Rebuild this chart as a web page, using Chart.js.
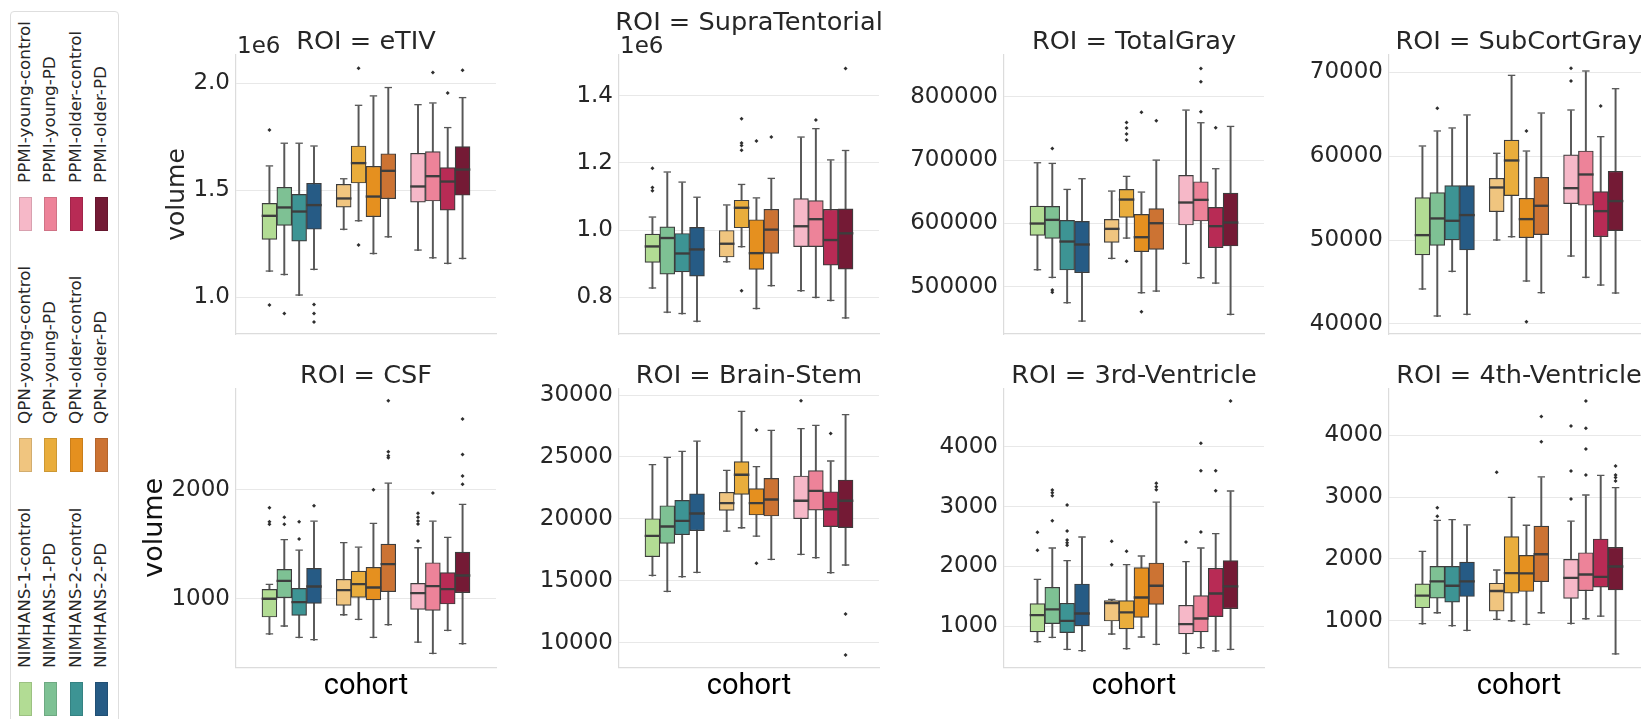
<!DOCTYPE html>
<html>
<head>
<meta charset="utf-8">
<script src="https://cdn.jsdelivr.net/npm/chart.js@4.4.1/dist/chart.umd.min.js"></script>
<style>
    html, body { margin: 0; padding: 0; background: #fff; overflow: hidden; }
    #stage { position: relative; width: 1641px; height: 719px; overflow: hidden; }
    #stage canvas { position: absolute; }
    #legendBox { position: absolute; left: 10px; top: 11px; width: 109px; height: 712px; border: 1px solid #dedede; border-radius: 4px; box-sizing: border-box; }
    .swatch { position: absolute; width: 13px; height: 34px; box-sizing: border-box; border: 1px solid rgba(0,0,0,0.12); }
    .lbl { position: absolute; font-family: 'DejaVu Sans'; font-size: 15px; line-height: 1; color: #262626; white-space: nowrap; transform-origin: 0 0; }
</style>
</head>
<body>
<div id="stage"><div id="legendBox"></div></div>
<script>
// ============================================
// DATOS
// ============================================
const rois = ['eTIV', 'SupraTentorial', 'TotalGray', 'SubCortGray', 'CSF', 'Brain-Stem', '3rd-Ventricle', '4th-Ventricle'];

const groups = [
    'NIMHANS-1-control', 'NIMHANS-1-PD', 'NIMHANS-2-control', 'NIMHANS-2-PD',
    'QPN-young-control', 'QPN-young-PD', 'QPN-older-control', 'QPN-older-PD',
    'PPMI-young-control', 'PPMI-young-PD', 'PPMI-older-control', 'PPMI-older-PD'
];
const groupColors = [
    '#b2dc94', '#7ec194', '#3d9494', '#265b85',
    '#f0c57f', '#e9ad3c', '#e5901f', '#cc7333',
    '#f6b8c8', '#ed8399', '#b82b55', '#741a35'
];
// hue slot of each group on the single "cohort" category (two empty slots separate the studies)
const slots = [0, 1, 2, 3, 5, 6, 7, 8, 10, 11, 12, 13];

// one row per ROI, one value per group
const whiskerLow = [
    [1.120e6, 1.104e6, 1.008e6, 1.128e6, 1.315e6, 1.355e6, 1.202e6, 1.280e6, 1.218e6, 1.182e6, 1.156e6, 1.179e6],
    [0.826e6, 0.754e6, 0.750e6, 0.727e6, 0.904e6, 0.949e6, 0.765e6, 0.833e6, 0.818e6, 0.798e6, 0.789e6, 0.737e6],
    [525800, 513700, 473700, 444700, 543700, 575800, 489500, 492100, 535800, 513200, 504700, 455300],
    [44100, 40880, 46200, 41080, 49940, 50330, 45050, 43660, 48030, 45490, 44570, 43620],
    [674, 747, 643, 622, 850, 808, 643, 759, 600, 497, 707, 585],
    [15380, 14090, 15280, 15630, 18960, 19230, 18560, 16680, 17080, 16810, 15600, 16220],
    [733, 806, 605, 583, 861, 616, 811, 689, 539, 633, 578, 605],
    [941, 1118, 909, 834, 1011, 989, 930, 1118, 945, 1021, 1064, 454]
];
const quartile1 = [
    [1.271e6, 1.336e6, 1.263e6, 1.318e6, 1.421e6, 1.534e6, 1.377e6, 1.461e6, 1.445e6, 1.450e6, 1.407e6, 1.477e6],
    [0.904e6, 0.869e6, 0.876e6, 0.863e6, 0.920e6, 1.007e6, 0.883e6, 0.931e6, 0.951e6, 0.951e6, 0.896e6, 0.884e6],
    [581100, 576300, 526300, 522100, 570000, 609500, 555300, 558900, 597400, 603700, 561600, 564200],
    [48230, 49380, 50020, 48820, 53390, 55300, 50290, 50650, 54350, 54150, 50410, 51130],
    [835, 1012, 850, 960, 942, 1015, 991, 1067, 905, 896, 954, 1058],
    [16940, 18020, 18720, 19040, 20690, 21980, 20310, 20230, 20010, 20710, 19370, 19290],
    [906, 1045, 895, 1006, 1089, 956, 1151, 1368, 873, 906, 1162, 1295],
    [1209, 1365, 1300, 1391, 1155, 1445, 1472, 1631, 1361, 1485, 1544, 1496]
];
const medians = [
    [1.377e6, 1.416e6, 1.397e6, 1.427e6, 1.458e6, 1.623e6, 1.467e6, 1.587e6, 1.514e6, 1.562e6, 1.537e6, 1.593e6],
    [0.949e6, 0.974e6, 0.928e6, 0.940e6, 0.957e6, 1.064e6, 0.929e6, 0.999e6, 1.009e6, 1.030e6, 0.968e6, 0.988e6],
    [598400, 604200, 570000, 565300, 590000, 636300, 576800, 598900, 631600, 635800, 594200, 600000],
    [50490, 52480, 52200, 52880, 56170, 59390, 52400, 53990, 56090, 57720, 53350, 54550],
    [994, 1158, 963, 1107, 1073, 1128, 1097, 1311, 1046, 1110, 1082, 1207],
    [18560, 19310, 19770, 20360, 21200, 23490, 21200, 21490, 21390, 22190, 20710, 21390],
    [1173, 1268, 1078, 1201, 1373, 1218, 1468, 1663, 1023, 1117, 1535, 1652],
    [1391, 1622, 1552, 1622, 1467, 1756, 1751, 2062, 1679, 1733, 1696, 1863]
];
const quartile3 = [
    [1.439e6, 1.514e6, 1.481e6, 1.533e6, 1.528e6, 1.707e6, 1.612e6, 1.671e6, 1.673e6, 1.681e6, 1.606e6, 1.704e6],
    [0.988e6, 1.010e6, 0.990e6, 1.008e6, 0.999e6, 1.089e6, 1.031e6, 1.062e6, 1.094e6, 1.088e6, 1.062e6, 1.063e6],
    [627400, 626800, 604700, 603200, 606300, 653700, 614200, 623200, 675800, 665800, 625300, 647900],
    [55060, 55660, 56490, 56490, 57370, 61930, 54980, 57490, 60150, 60620, 55780, 58200],
    [1088, 1271, 1097, 1280, 1180, 1256, 1290, 1503, 1143, 1332, 1241, 1430],
    [20010, 21060, 21490, 22030, 22140, 24620, 22440, 23270, 23460, 23890, 22190, 23140],
    [1379, 1652, 1384, 1707, 1429, 1429, 1980, 2058, 1351, 1512, 1969, 2097],
    [1595, 1879, 1879, 1949, 1606, 2362, 2056, 2532, 1992, 2100, 2322, 2187]
];
const whiskerHigh = [
    [1.611e6, 1.717e6, 1.717e6, 1.704e6, 1.551e6, 1.894e6, 1.938e6, 1.977e6, 1.897e6, 1.905e6, 1.790e6, 1.930e6],
    [1.037e6, 1.171e6, 1.141e6, 1.096e6, 1.073e6, 1.134e6, 1.094e6, 1.152e6, 1.275e6, 1.300e6, 1.207e6, 1.235e6],
    [694700, 693700, 652600, 669500, 650000, 673200, 648400, 698900, 777900, 757900, 685300, 752100],
    [61140, 62930, 63290, 64840, 60270, 69560, 60540, 65070, 65430, 70080, 62250, 67970],
    [1128, 1537, 1442, 1707, 1509, 1469, 1686, 2055, 1463, 1707, 1558, 1860],
    [24320, 24910, 25400, 26230, 23860, 28630, 24160, 27090, 27230, 27500, 24620, 28360],
    [1774, 2297, 2086, 2481, 1441, 2019, 2164, 3065, 2069, 2297, 2536, 3249],
    [2110, 2614, 2625, 2539, 1810, 2984, 2534, 3315, 2602, 3023, 3342, 3142]
];
// [group index, value]
const outliers = [
    [[0, 1.782e6], [0, 0.964e6], [1, 0.925e6], [3, 0.967e6], [3, 0.925e6], [3, 0.885e6], [5, 2.070e6], [5, 1.245e6], [9, 2.050e6], [10, 1.955e6], [11, 2.061e6]],
    [[0, 1.184e6], [0, 1.127e6], [0, 1.117e6], [5, 1.331e6], [5, 1.259e6], [5, 1.252e6], [5, 1.238e6], [5, 0.820e6], [6, 1.265e6], [7, 1.277e6], [9, 1.328e6], [11, 1.481e6]],
    [[1, 718400], [1, 494700], [1, 491100], [5, 759500], [5, 750500], [5, 741100], [5, 731600], [5, 540000], [6, 775300], [6, 460500], [7, 762100], [9, 844700], [9, 823700], [9, 776300], [10, 751100]],
    [[1, 65710], [6, 63010], [6, 40280], [8, 70480], [8, 68970], [10, 65990]],
    [[0, 1835], [0, 1707], [0, 1683], [1, 1747], [1, 1683], [2, 1707], [2, 1549], [3, 1854], [6, 2000], [7, 2814], [7, 2348], [7, 2311], [7, 2293], [8, 1784], [8, 1747], [8, 1713], [8, 1686], [8, 1530], [9, 1970], [11, 2646], [11, 2323], [11, 2125], [11, 2049]],
    [[6, 27170], [6, 16410], [8, 29540], [10, 26900], [11, 12310], [11, 9000]],
    [[0, 2570], [0, 2269], [1, 3277], [1, 3232], [1, 3182], [1, 2765], [2, 3026], [2, 2592], [2, 2442], [2, 2397], [2, 2353], [4, 2420], [4, 2030], [5, 2253], [7, 3388], [7, 3332], [7, 3282], [8, 2408], [9, 4056], [9, 3599], [9, 2575], [10, 3599], [10, 3265], [11, 4762]],
    [[1, 2828], [1, 2689], [4, 3401], [7, 4302], [7, 3897], [8, 4151], [8, 3423], [8, 2969], [9, 4556], [9, 4113], [9, 3779], [9, 3358], [11, 3503], [11, 3358], [11, 3315], [11, 3261]]
];

const yMin = [0.829e6, 0.691e6, 425300, 38808, 375, 8013, 316, 246];
const yMax = [2.132e6, 1.521e6, 865900, 72062, 2928, 30541, 4975, 4760];
const yTicks = [
    [1.0e6, 1.5e6, 2.0e6],
    [0.8e6, 1.0e6, 1.2e6, 1.4e6],
    [500000, 600000, 700000, 800000],
    [40000, 50000, 60000, 70000],
    [1000, 2000],
    [10000, 15000, 20000, 25000, 30000],
    [1000, 2000, 3000, 4000],
    [1000, 2000, 3000, 4000]
];
const offsetText = ['1e6', '1e6', '', '', '', '', '', ''];

// ============================================
// LAYOUT
// ============================================
const panelLeft = [236, 619, 1004, 1389];
const panelWidth = 260;
const sideWidth = 100;             // space for the y axis (and an equal blank on the right)
const canvasTop = [0, 340];
const canvasHeight = [380, 379];
const areaTop = [55, 48.3];        // chart area top inside canvas
const areaBottom = [334, 327.3];   // chart area bottom inside canvas
const titleCenter = [[42, 23, 42, 42], [36.7, 36.7, 36.7, 36.7]];
const TITLE_SIZE = 25.6;

const TEXT = '#262626';
const EDGE = '#3d3d3d';
const WHISKER = '#575757';
const SPINE = '#dcdcdc';
const GRID = '#e8e8e8';

const offsetTextPlugin = {
    id: 'offsetText',
    afterDraw(chart, args, opts) {
        if (!opts.text) return;
        const { ctx, chartArea } = chart;
        ctx.save();
        ctx.font = '23px "DejaVu Sans"';
        ctx.fillStyle = TEXT;
        ctx.textAlign = 'left';
        ctx.textBaseline = 'alphabetic';
        ctx.fillText(opts.text, chartArea.left + 1, chartArea.top - 2);
        ctx.restore();
    }
};

function buildPanel(p) {
    const row = p < 4 ? 0 : 1;
    const col = p % 4;
    const canvas = document.createElement('canvas');
    canvas.width = panelWidth + 2 * sideWidth;
    canvas.height = canvasHeight[row];
    canvas.style.left = (panelLeft[col] - sideWidth) + 'px';
    canvas.style.top = canvasTop[row] + 'px';
    document.getElementById('stage').appendChild(canvas);

    const padTop = titleCenter[row][col] - TITLE_SIZE / 2;
    const padBottom = areaTop[row] - padTop - TITLE_SIZE;
    const xAxisHeight = canvasHeight[row] - areaBottom[row];

    const bar = (values, extra) => Object.assign({
        type: 'bar',
        data: slots.map((s, g) => ({ x: s, y: values(g) })),
        grouped: false,
        borderSkipped: false,
        categoryPercentage: 1,
        barPercentage: 1
    }, extra);

    const datasets = [
        bar(g => [whiskerLow[p][g], whiskerHigh[p][g]], { backgroundColor: WHISKER, barThickness: 1.3, order: 5 }),
        bar(g => [whiskerLow[p][g], whiskerLow[p][g]], { backgroundColor: WHISKER, barPercentage: 0.5, minBarLength: 1.3, order: 4 }),
        bar(g => [whiskerHigh[p][g], whiskerHigh[p][g]], { backgroundColor: WHISKER, barPercentage: 0.5, minBarLength: 1.3, order: 3 }),
        bar(g => [quartile1[p][g], quartile3[p][g]], { backgroundColor: groupColors, borderColor: EDGE, borderWidth: 1.2, order: 2 }),
        bar(g => [medians[p][g], medians[p][g]], { backgroundColor: EDGE, minBarLength: 1.7, order: 1 }),
        {
            type: 'scatter',
            data: outliers[p].map(o => ({ x: slots[o[0]], y: o[1] })),
            pointStyle: 'rectRot',
            pointRadius: 2,
            pointBackgroundColor: '#2e2e2e',
            pointBorderWidth: 0,
            order: 0
        }
    ];

    new Chart(canvas, {
        type: 'bar',
        data: { datasets },
        plugins: [offsetTextPlugin],
        options: {
            responsive: false,
            animation: false,
            layout: { padding: 0 },
            plugins: {
                legend: { display: false },
                tooltip: { enabled: false },
                title: {
                    display: true,
                    text: 'ROI = ' + rois[p],
                    color: TEXT,
                    font: { family: 'DejaVu Sans', size: TITLE_SIZE, weight: 'normal', lineHeight: 1 },
                    padding: { top: padTop, bottom: padBottom }
                },
                offsetText: { text: offsetText[p] }
            },
            scales: {
                x: {
                    type: 'linear',
                    min: -2.25,
                    max: 15.25,
                    offset: false,
                    ticks: { display: false, stepSize: 1 },
                    grid: { display: false },
                    border: { display: true, color: SPINE, width: 1.2 },
                    title: {
                        display: row === 1,
                        text: 'cohort',
                        color: '#000',
                        font: { family: 'Roboto', size: 29, lineHeight: 1 },
                        padding: { top: 0, bottom: 17.8 }
                    },
                    afterFit: s => { s.height = xAxisHeight; }
                },
                y: {
                    type: 'linear',
                    position: 'left',
                    min: yMin[p],
                    max: yMax[p],
                    afterBuildTicks: s => { s.ticks = yTicks[p].map(v => ({ value: v })); },
                    ticks: {
                        color: TEXT,
                        padding: 6,
                        font: { family: 'DejaVu Sans', size: 23 },
                        callback: v => (p < 2 ? (v / 1e6).toFixed(1) : String(v))
                    },
                    grid: { color: GRID, lineWidth: 1, drawTicks: false },
                    border: { display: true, color: SPINE, width: 1.2 },
                    title: {
                        display: col === 0,
                        text: 'volume',
                        color: row === 0 ? TEXT : '#111',
                        font: { family: 'DejaVu Sans', size: row === 0 ? 25 : 27, lineHeight: 1 },
                        padding: { top: row === 0 ? 28.5 : 5.5, bottom: 0 }
                    },
                    afterFit: s => { s.width = sideWidth; }
                },
                // blank box on the right so the title centres over the plot area
                side: {
                    type: 'linear',
                    position: 'right',
                    display: true,
                    ticks: { display: false },
                    grid: { display: false },
                    border: { display: false },
                    afterFit: s => { s.width = sideWidth; }
                }
            }
        }
    });
}

// ============================================
// LEYENDA (texto girado, como en la figura)
// ============================================
const legendBlocks = [[8, 9, 10, 11], [4, 5, 6, 7], [0, 1, 2, 3]];
const legendTextBottom = [183, 424, 668];
const legendSwatchTop = [197, 438, 682];
const legendColumnX = [25, 50, 76, 101];

function buildLegend() {
    const stage = document.getElementById('stage');
    legendBlocks.forEach((block, b) => {
        block.forEach((g, k) => {
            const sw = document.createElement('div');
            sw.className = 'swatch';
            sw.style.left = (legendColumnX[k] - 6.5) + 'px';
            sw.style.top = legendSwatchTop[b] + 'px';
            sw.style.background = groupColors[g];
            stage.appendChild(sw);

            const lbl = document.createElement('span');
            lbl.className = 'lbl';
            lbl.textContent = groups[g];
            lbl.style.left = legendColumnX[k] + 'px';
            lbl.style.top = legendTextBottom[b] + 'px';
            lbl.style.transform = 'rotate(-90deg) translate(0, -50%) scaleX(1.12)';
            stage.appendChild(lbl);
        });
    });
}

buildLegend();
for (let p = 0; p < rois.length; p++) buildPanel(p);
</script>
</body>
</html>
